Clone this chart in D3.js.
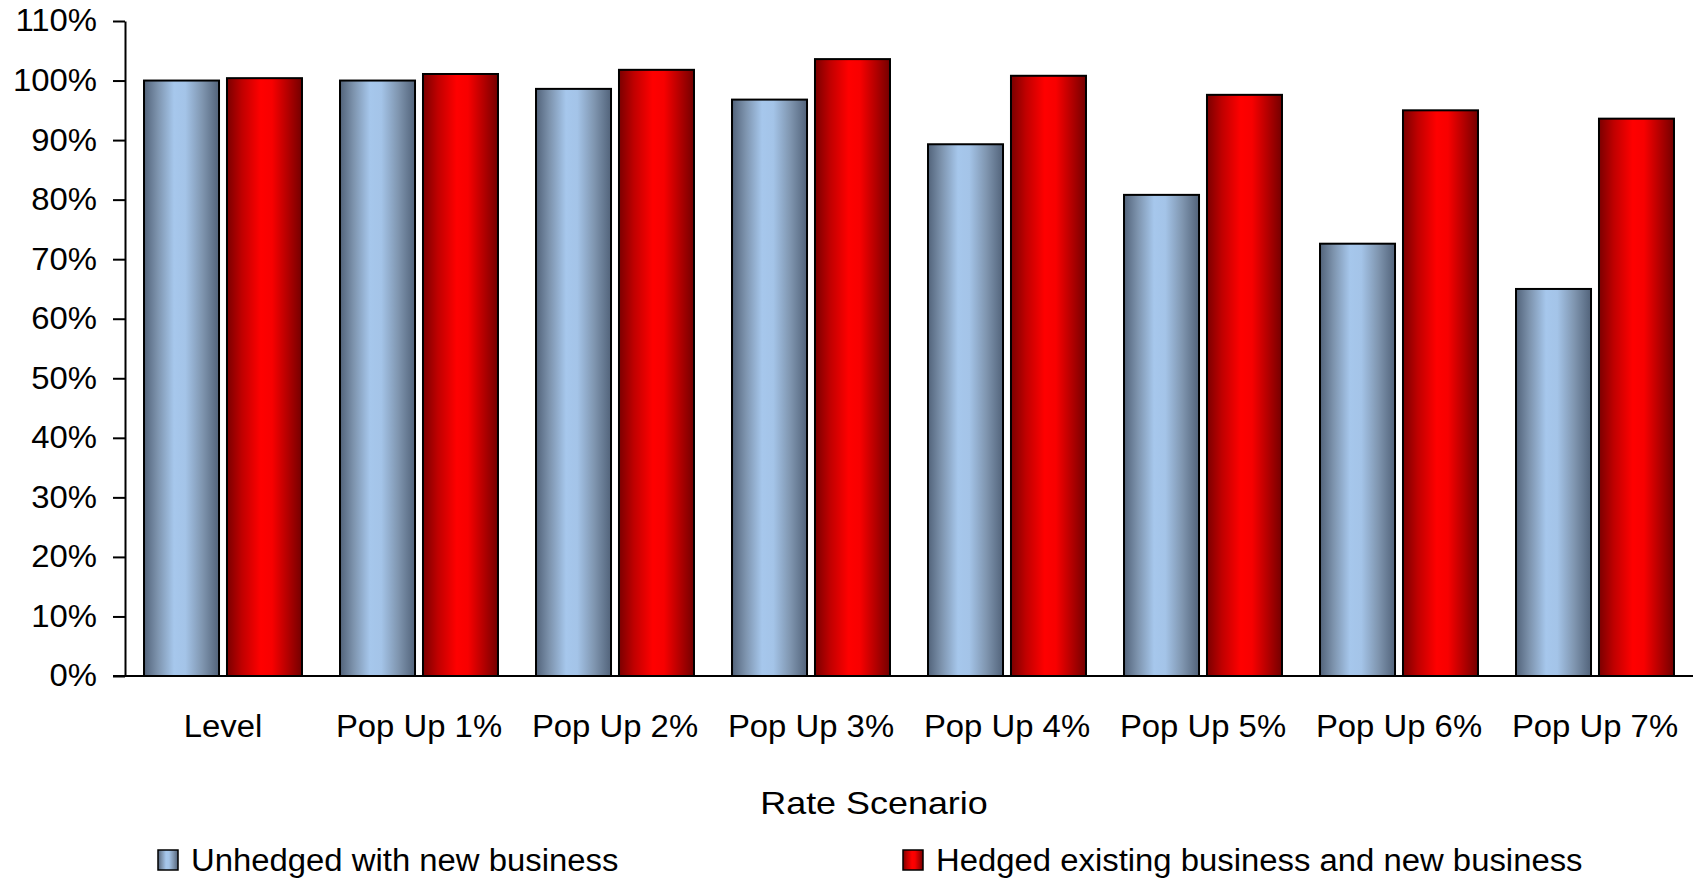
<!DOCTYPE html>
<html>
<head>
<meta charset="utf-8">
<script src="https://cdn.jsdelivr.net/npm/d3@7"></script>
<style>
  html, body { margin: 0; padding: 0; background: #fff; }
  svg { display: block; font-family: "Liberation Sans", Arial, sans-serif; }
</style>
</head>
<body>
<svg id="chart" width="1696" height="878"></svg>
<script>
// chart data
const categories = ["Level", "Pop Up 1%", "Pop Up 2%", "Pop Up 3%", "Pop Up 4%", "Pop Up 5%", "Pop Up 6%", "Pop Up 7%"]
const seriesNames = ["Unhedged with new business", "Hedged existing business and new business"]
const unhedged = [100, 100, 98.6, 96.8, 89.3, 80.8, 72.6, 65.0]
const hedged = [100.4, 101.1, 101.8, 103.6, 100.8, 97.6, 95.0, 93.6]
const yTicks = [0, 10, 20, 30, 40, 50, 60, 70, 80, 90, 100, 110]
const xTitle = "Rate Scenario"

const svg = d3.select("#chart")

const plotLeft = 125, plotRight = 1693, plotTop = 21, plotBottom = 676
// the original text is a little wider than Arial, so stretch it sideways
const stretch = 1.06

const x0 = d3.scaleBand()
    .domain(categories)
    .range([plotLeft, plotRight])
    .paddingInner(0.194)
    .paddingOuter(0.097)

const x1 = d3.scaleBand()
    .domain([0, 1])
    .range([0, x0.bandwidth()])
    .paddingInner(0.096)

const y = d3.scaleLinear().domain([0, 110]).range([plotBottom, plotTop])

// gradients for the bar fills
const defs = svg.append("defs")
const gradients = [
    {id: "gradBlue", stops: [[0, "#52637a"], [0.18, "#7d93ad"], [0.4, "#a6c7ec"], [0.55, "#a4c4e8"], [0.78, "#7f95af"], [1, "#52637a"]]},
    {id: "gradRed", stops: [[0, "#7a0000"], [0.2, "#c00000"], [0.45, "#ff0000"], [0.6, "#f80000"], [0.82, "#b00000"], [1, "#740000"]]}
]
gradients.forEach(g => {
    const lg = defs.append("linearGradient")
        .attr("id", g.id)
        .attr("x1", "0%").attr("x2", "100%")
        .attr("y1", "0%").attr("y2", "0%")
    g.stops.forEach(s => {
        lg.append("stop").attr("offset", s[0]).attr("stop-color", s[1])
    })
})
const fills = ["url(#gradBlue)", "url(#gradRed)"]

const rows = categories.map((c, i) => ({cat: c, values: [unhedged[i], hedged[i]]}))

// bars
const groups = svg.append("g")
    .selectAll("g")
    .data(rows)
    .enter()
    .append("g")
    .attr("transform", d => `translate(${x0(d.cat)},0)`)

groups.selectAll("rect")
    .data(d => d.values.map((v, k) => ({k: k, v: v})))
    .enter()
    .append("rect")
    .attr("x", d => x1(d.k))
    .attr("y", d => y(d.v))
    .attr("width", x1.bandwidth())
    .attr("height", d => y(0) - y(d.v))
    .attr("fill", d => fills[d.k])
    .attr("stroke", "#000")
    .attr("stroke-width", 2)

// y axis
const yAxis = svg.append("g")
    .attr("transform", `translate(${plotLeft},0)`)
    .call(d3.axisLeft(y).tickValues(yTicks).tickFormat(d => d + "%").tickSize(12).tickSizeOuter(0).tickPadding(16))
yAxis.select(".domain").attr("stroke", "#000").attr("stroke-width", 2)
yAxis.selectAll(".tick line").attr("stroke", "#000").attr("stroke-width", 2)
yAxis.selectAll(".tick text")
    .attr("x", -28 / stretch)
    .attr("transform", `scale(${stretch},1)`)
    .attr("font-size", 31)
    .attr("font-family", "Liberation Sans, Arial, sans-serif")
    .attr("fill", "#000")

// x axis line
svg.append("line")
    .attr("x1", plotLeft - 12)
    .attr("x2", plotRight)
    .attr("y1", y(0))
    .attr("y2", y(0))
    .attr("stroke", "#000")
    .attr("stroke-width", 2)

// category labels
svg.append("g")
    .selectAll("text")
    .data(categories)
    .enter()
    .append("text")
    .attr("transform", d => `translate(${x0(d) + x0.bandwidth() / 2},737) scale(${stretch},1)`)
    .attr("text-anchor", "middle")
    .attr("font-size", 31)
    .attr("fill", "#000")
    .text(d => d)

// axis title
svg.append("text")
    .attr("transform", "translate(874,814) scale(1.14,1)")
    .attr("text-anchor", "middle")
    .attr("font-size", 31.5)
    .attr("fill", "#000")
    .text(xTitle)

// legend
const legendX = [158, 903]
const legend = svg.append("g")
    .selectAll("g")
    .data(seriesNames)
    .enter()
    .append("g")
    .attr("transform", (d, i) => `translate(${legendX[i]},850)`)
legend.append("rect")
    .attr("width", 20)
    .attr("height", 20)
    .attr("fill", (d, i) => fills[i])
    .attr("stroke", "#000")
    .attr("stroke-width", 1.5)
legend.append("text")
    .attr("transform", `translate(33,21) scale(${stretch},1)`)
    .attr("font-size", 31)
    .attr("fill", "#000")
    .text(d => d)
</script>
</body>
</html>
